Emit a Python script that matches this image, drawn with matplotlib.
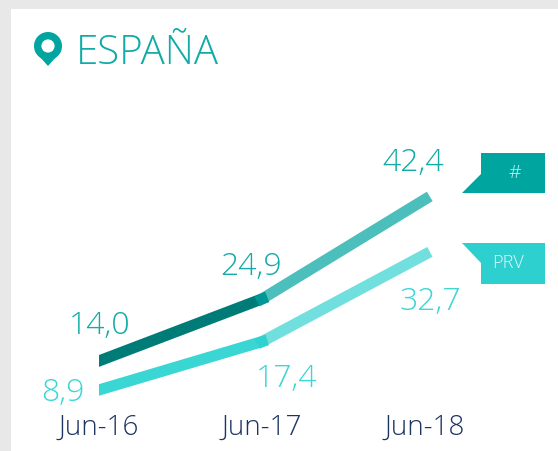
import matplotlib
matplotlib.use('Agg')
import matplotlib.pyplot as plt
from matplotlib.patches import Polygon, Circle, Rectangle

plt.rcParams['font.family'] = ['Open Sans', 'DejaVu Sans']

# data
periods = ['Jun-16', 'Jun-17', 'Jun-18']
hash_vals = [14.0, 24.9, 42.4]
prv_vals = [8.9, 17.4, 32.7]
hash_labels = ['14,0', '24,9', '42,4']
prv_labels = ['8,9', '17,4', '32,7']
hash_offsets = [(1, 27), (-11, 24), (-12, 28)]
prv_offsets = [(-36, -11), (25, -45), (5, -55)]

W, H = 558, 451
TEAL = '#00A5A0'
TURQ = '#2DD0CF'
DARK = '#007C78'
NAVY = '#1D3461'

fig = plt.figure(figsize=(W / 100, H / 100), dpi=100, facecolor='#E8E8E8')

# background, pin and flags in pixel coords
bg = fig.add_axes([0, 0, 1, 1], zorder=0)
bg.set_xlim(0, W)
bg.set_ylim(H, 0)
bg.axis('off')
bg.add_patch(Rectangle((11, 9), W - 11, H - 9, fc='white', ec='none'))

bg.add_patch(Circle((48, 46), 14, fc=TEAL, ec='none'))
bg.add_patch(Polygon([(35.5, 52), (60.5, 52), (48, 66)], fc=TEAL, ec='none'))
bg.add_patch(Circle((48, 46), 6.6, fc='white', ec='none'))
bg.text(76, 64, 'ESPAÑA', color='#12ABA6', fontsize=29, fontweight='light', va='baseline')

bg.add_patch(Polygon([(481, 153), (545, 153), (545, 193), (462, 193), (481, 174)], fc=TEAL, ec='none'))
bg.add_patch(Polygon([(462, 243), (545, 243), (545, 284), (481, 284), (481, 263)], fc=TURQ, ec='none'))
bg.text(515, 173, '#', color='#CFF3F1', fontsize=14, ha='center', va='center', fontweight='light')
bg.text(508, 263, 'PRV', color='#E4FAF9', fontsize=13, ha='center', va='center', fontweight='light')

# chart
left_px, right_px = 99, 99 + 163 * 2.06
top_px, bottom_px = 170, 410
ax = fig.add_axes([left_px / W, 1 - bottom_px / H, (right_px - left_px) / W, (bottom_px - top_px) / H], zorder=1)
ax.patch.set_alpha(0)
ax.set_xlim(0, 2.06)
ax.set_ylim(5.38, 47.55)
for s in ax.spines.values():
    s.set_visible(False)
ax.set_yticks([])
ax.set_xticks(range(3))
ax.set_xticklabels(periods, color=NAVY, fontsize=20, fontweight='light')
ax.tick_params(axis='x', length=0, pad=3)

x = [0, 1, 2]
lw = 8
ax.plot(x[:2], hash_vals[:2], color=DARK, lw=lw, solid_capstyle='projecting')
ax.plot(x[1:], hash_vals[1:], color=TEAL, alpha=0.7, lw=lw, solid_capstyle='projecting')
ax.plot(x[:2], prv_vals[:2], color='#3AD6D4', lw=lw, solid_capstyle='projecting')
ax.plot(x[1:], prv_vals[1:], color=TURQ, alpha=0.68, lw=lw, solid_capstyle='projecting')

for i in x:
    ax.annotate(hash_labels[i], (i, hash_vals[i]), xytext=hash_offsets[i], textcoords='offset pixels',
                ha='center', va='baseline', color='#12ABA6', fontsize=23, fontweight='light')
    ax.annotate(prv_labels[i], (i, prv_vals[i]), xytext=prv_offsets[i], textcoords='offset pixels',
                ha='center', va='baseline', color='#3CD6D4', fontsize=23, fontweight='light')

fig.savefig('out.png', dpi=100, facecolor=fig.get_facecolor())
